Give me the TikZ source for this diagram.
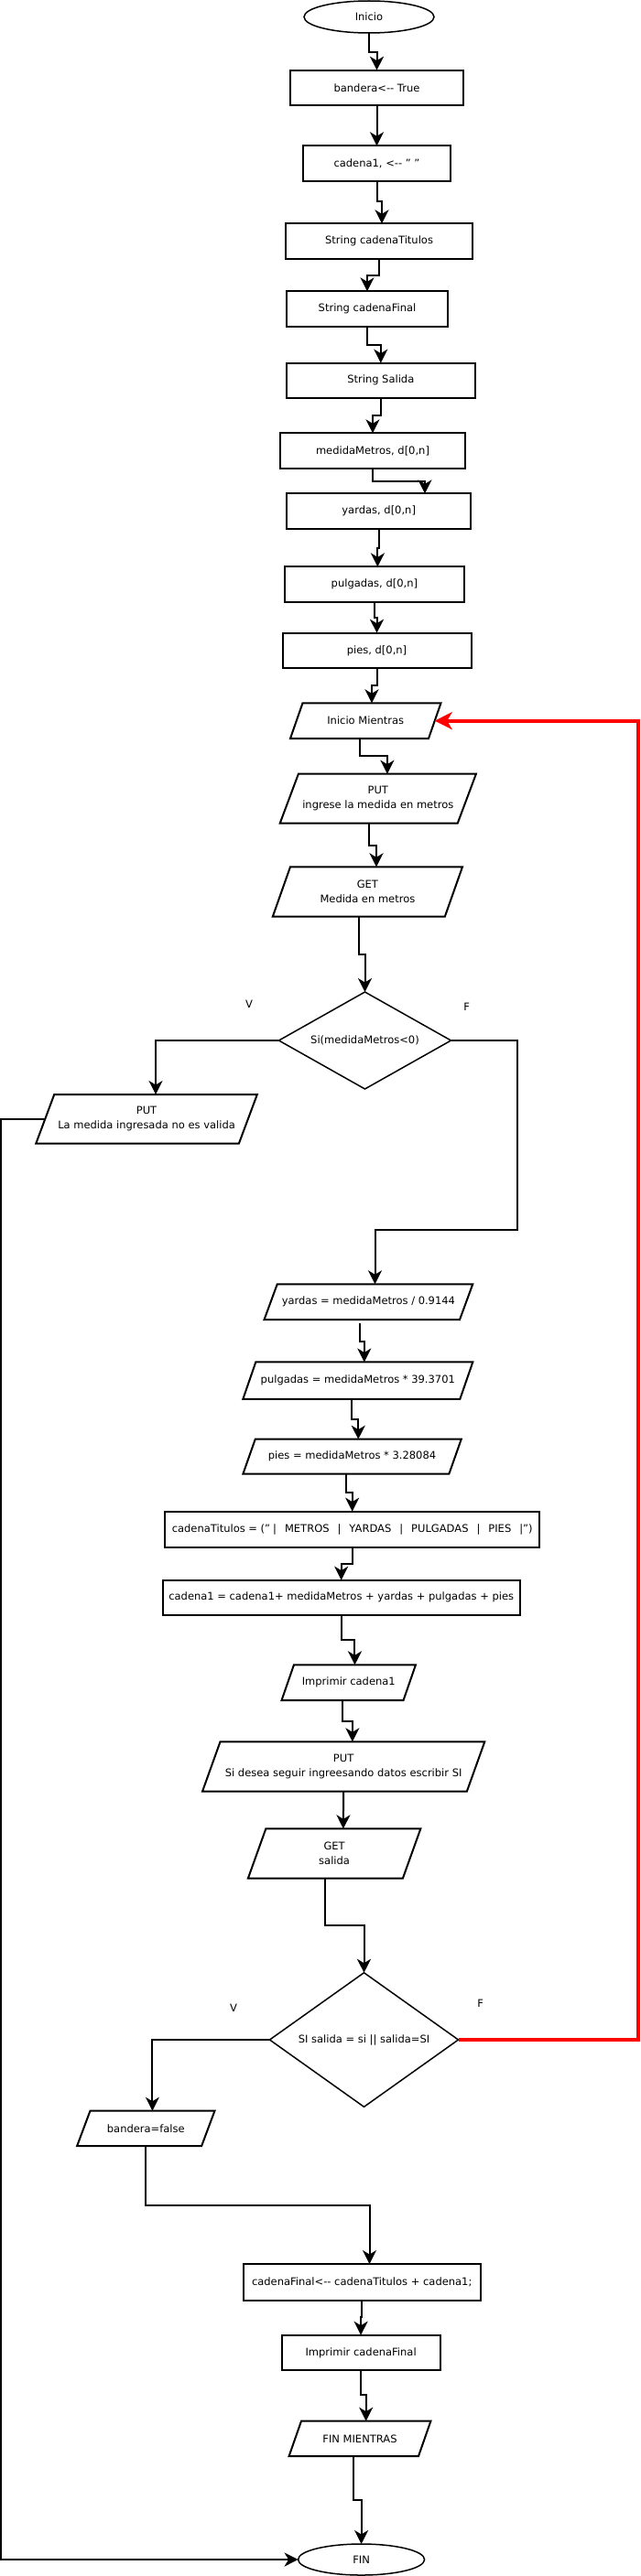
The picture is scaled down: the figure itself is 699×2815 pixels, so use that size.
\documentclass[tikz,border=0pt]{standalone}
\usepackage{fontspec}
\setmainfont{DejaVu Sans}
\usetikzlibrary{arrows.meta,shapes.geometric,calc}
\newcommand\dd{-\kern0pt-}
\newcommand\mkpara[7]{%
  \node[pbox, minimum width={#4+#6}, minimum height=#5] (#1) at (#2,#3) {#7};
  \draw[pline] ($(#1.north west)+(#6,0)$) -- (#1.north east) -- ($(#1.south east)-(#6,0)$) -- (#1.south west) -- cycle;
  \coordinate (#1-t) at ($(#1.north)+(#6/2,0)$);
  \coordinate (#1-b) at ($(#1.south)-(#6/2,0)$);
  \coordinate (#1-l) at ($(#1.west)+(#6/2,0)$);
  \coordinate (#1-r) at ($(#1.east)-(#6/2,0)$);
}
\begin{document}
\begin{tikzpicture}[x=1pt,y=-1pt,
  font=\fontsize{11.5}{16}\selectfont,
  box/.style={draw, line width=2pt, inner sep=0pt, outer sep=0pt, align=center},
  pbox/.style={inner sep=0pt, outer sep=0pt, align=center},
  pline/.style={line width=2pt, line join=miter},
  term/.style={draw, ellipse, line width=1.5pt, inner sep=0pt, outer sep=0pt},
  dec/.style={draw, diamond, line width=1.5pt, inner sep=0pt, outer sep=0pt},
  arr/.style={line width=2pt, -{Stealth[length=15pt,width=15pt,inset=4.5pt]}},
  redarr/.style={draw=red, line width=3.8pt, -{Stealth[length=19pt,width=19pt,inset=5.5pt]}},
  lab/.style={inner sep=0pt}
]
\useasboundingbox (0,0) rectangle (699,2815);

% terminals
\node[term, minimum width=142, minimum height=35] (inicio) at (403,18.5) {Inicio};
\node[term, minimum width=138, minimum height=34] (fin) at (394.6,2797) {FIN};

% rectangles
\node[box, minimum width=189, minimum height=38.6] (bandera) at (411.5,96) {bandera<\dd{} True};
\node[box, minimum width=161, minimum height=39] (cad1) at (411.5,178.8) {cadena1, <\dd{} " "};
\node[box, minimum width=204.5, minimum height=39] (titulos) at (414,263.8) {String cadenaTitulos};
\node[box, minimum width=176, minimum height=38.7] (cadFinal) at (401,337.7) {String cadenaFinal};
\node[box, minimum width=205.5, minimum height=38.3] (salida) at (415.8,415.8) {String Salida};
\node[box, minimum width=202, minimum height=38.7] (medida) at (407,492.7) {medidaMetros, d[0,n]};
\node[box, minimum width=201.5, minimum height=38.7] (yardas) at (413.7,558.7) {yardas, d[0,n]};
\node[box, minimum width=196.3, minimum height=38.7] (pulgadas) at (408.9,638.7) {pulgadas, d[0,n]};
\node[box, minimum width=206, minimum height=38.6] (pies) at (411.5,711) {pies, d[0,n]};
\node[box, minimum width=409.4, minimum height=39.3] (titulos2) at (384.7,1671.3) {cadenaTitulos = ("\hspace{3pt}|\hspace{9pt}METROS\hspace{9pt}|\hspace{9pt}YARDAS\hspace{9pt}|\hspace{9pt}PULGADAS\hspace{9pt}|\hspace{9pt}PIES\hspace{9pt}|")};
\node[box, minimum width=389.6, minimum height=38.3] (cad1eq) at (372.7,1745.8) {cadena1 = cadena1+ medidaMetros + yardas + pulgadas + pies};
\node[box, minimum width=259, minimum height=40.3] (cadFinal2) at (395.2,2494.2) {cadenaFinal<\dd{} cadenaTitulos + cadena1;};
\node[box, minimum width=173, minimum height=38.6] (impF) at (394.1,2571) {Imprimir cadenaFinal};

% parallelograms
\mkpara{mientras}{399.25}{787.65}{151}{38.7}{13.5}{Inicio Mientras}
\mkpara{put1}{412.8}{872.7}{194}{54}{20.2}{PUT\\ingrese la medida en metros}
\mkpara{get1}{401.4}{974.5}{188}{54.4}{19.2}{GET\\Medida en metros}
\mkpara{put2}{160.05}{1222.85}{221.6}{53.7}{20}{PUT\\La medida ingresada no es valida}
\mkpara{yardasE}{402.4}{1422.65}{213.5}{38.7}{14.2}{yardas = medidaMetros / 0.9144}
\mkpara{pulgE}{390.8}{1508.7}{237}{40.5}{14}{pulgadas = medidaMetros * 39.3701}
\mkpara{piesE}{384.55}{1591.7}{225}{38}{13.4}{pies = medidaMetros * 3.28084}
\mkpara{imp1}{380.75}{1838.65}{133}{38.7}{13.4}{Imprimir cadena1}
\mkpara{put3}{375.15}{1930.5}{288.8}{54.4}{19.5}{PUT\\Si desea seguir ingreesando datos escribir SI}
\mkpara{get2}{365.1}{2025.5}{169}{54.4}{19.5}{GET\\salida}
\mkpara{falseP}{159.3}{2325.85}{136}{38.3}{14.3}{bandera=false}
\mkpara{finM}{393}{2664.85}{141.4}{38.3}{13.4}{FIN MIENTRAS}

% decisions
\node[dec, aspect=1.77, minimum width=188, minimum height=106] (d1) at (398.5,1137) {Si(medidaMetros<0)};
\node[dec, aspect=1.405, minimum width=206, minimum height=146.6] (d2) at (397.5,2229) {SI salida = si || salida=SI};

% labels
\node[lab] (v1) at (272,1097.7) {V};
\node[lab] (f1) at (509.6,1100) {F};
\node[lab] (v2) at (255,2194.3) {V};
\node[lab] (f2) at (524.7,2189.3) {F};

% connectors
\draw[arr] (inicio.south) -- ++(0,21) -| (bandera.north);
\draw[arr] (bandera.south) -- (cad1.north);
\draw[arr] (cad1.south) -- ++(0,22) -| ([xshift=3pt]titulos.north);
\draw[arr] (titulos.south) -- ++(0,17.7) -| (cadFinal.north);
\draw[arr] (cadFinal.south) -- ++(0,19.6) -| (salida.north);
\draw[arr] (salida.south) -- ++(0,19.3) -| (medida.north);
\draw[arr] (medida.south) -- ++(0,13.7) -| ([xshift=50.3pt]yardas.north);
\draw[arr] (yardas.south) -- ++(0,20.7) -| ([xshift=3.5pt]pulgadas.north);
\draw[arr] (pulgadas.south) -- ++(0,17) -| (pies.north);
\draw[arr] (pies.south) -- ++(0,18.7) -| (mientras-t);
\draw[arr] (mientras-b) -- ++(0,19) -| (put1-t);
\draw[arr] (put1-b) -- ++(0,24.3) -| (get1-t);
\draw[arr] (get1-b) -- ++(0,41) -| (d1.north);
\draw[arr] (d1.west) -| (put2-t);
\draw[arr] (d1.east) -| (565.3,1344.3) -| (yardasE-t);
\draw[arr] (put2-l) -- (1.3,1222.85) |- (fin.west);
\draw[arr] ([xshift=-2pt,yshift=-4.3pt]yardasE-b) -- ++(0,19.7) -| (pulgE-t);
\draw[arr] (pulgE-b) -- ++(0,21.7) -| (piesE-t);
\draw[arr] (piesE-b) -- ++(0,20.3) -| (titulos2.north);
\draw[arr] (titulos2.south) -- ++(0,17.75) -| (cad1eq.north);
\draw[arr] (cad1eq.south) -- ++(0,27.35) -| (imp1-t);
\draw[arr] (imp1-b) -- ++(0,23) -| (put3-t);
\draw[arr] (put3.south) -- (get2-t);
\draw[arr] (get2-b) -- ++(0,51.6) -| (d2.north);
\draw[redarr] (d2.east) -- (696.8,2229) |- (mientras-r);
\draw[arr] (d2.west) -| (falseP-t);
\draw[arr] (falseP.south) -- ++(0,65) -| ([xshift=8.3pt]cadFinal2.north);
\draw[arr] (cadFinal2.south) -- ++(0,17.4) -| (impF.north);
\draw[arr] (impF.south) -- ++(0,27) -| (finM-t);
\draw[arr] (finM-b) -- ++(0,47.7) -| (fin.north);
\end{tikzpicture}
\end{document}
